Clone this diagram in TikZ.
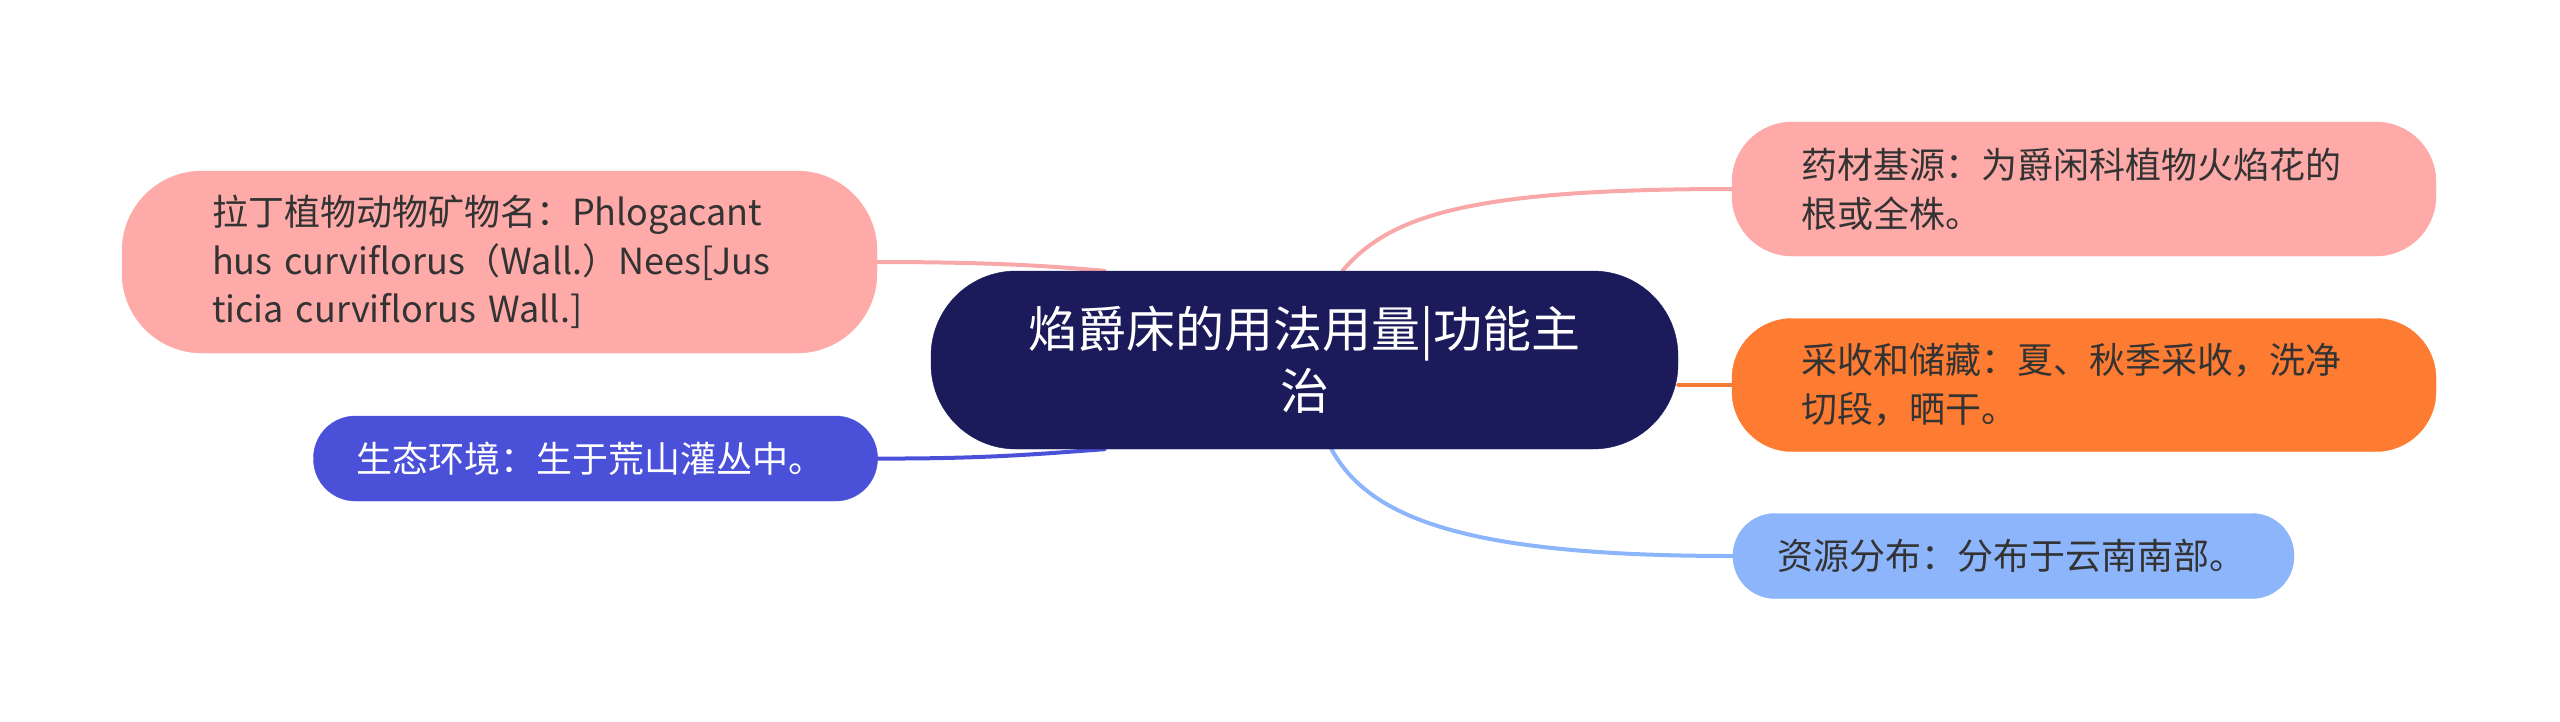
\documentclass[tikz,border=0pt]{standalone}
\usepackage{fontspec}
\setmainfont{Noto Sans CJK SC}
\usetikzlibrary{backgrounds}
\definecolor{navy}{HTML}{1B1A5A}
\definecolor{pinkc}{HTML}{FDAAA8}
\definecolor{pinkl}{HTML}{F8A8A8}
\definecolor{bluec}{HTML}{4A51D8}
\definecolor{orangec}{HTML}{FE7B32}
\definecolor{orangel}{HTML}{F47A35}
\definecolor{lightb}{HTML}{8CB5FB}
\definecolor{txt}{HTML}{333333}
\tikzset{
  mainbox/.style={fill=navy, draw=navy, text=white, align=center,
    minimum width=747pt, minimum height=178pt, rounded corners=85pt,
    inner sep=0pt, font=\fontsize{49}{62}\selectfont},
  childbox/.style={align=left, inner ysep=0pt, anchor=center,
    font=\fontsize{36}{48.5}\selectfont},
  conn/.style={line width=4pt, line cap=round},
}
\begin{document}
\begin{tikzpicture}[x=1pt,y=-1pt]
\useasboundingbox (0,0) rectangle (2560,721);

\node[mainbox] (c) at (1304.5,360) {焰爵床的用法用量|功能主\\治};

\node[childbox, fill=pinkc, draw=pinkc, text=txt, inner xsep=90pt, text width=575pt,
  minimum height=182pt, rounded corners=80pt] (lp) at (499.5,262)
  {\mbox{拉丁植物动物矿物名：Phlogacant}\\\mbox{hus curviflorus（Wall.）Nees[Jus}\\\mbox{ticia curviflorus Wall.]}};

\node[childbox, fill=bluec, draw=bluec, text=white, inner xsep=43pt, text width=478pt,
  minimum height=85pt, rounded corners=42pt] (lb) at (595.5,458.5)
  {\mbox{生态环境：生于荒山灌丛中。}};

\node[childbox, fill=pinkc, draw=pinkc, text=txt, inner xsep=69pt, text width=566pt,
  minimum height=134pt, rounded corners=60pt] (rp) at (2084,189)
  {\mbox{药材基源：为爵闲科植物火焰花的}\\\mbox{根或全株。}};

\node[childbox, fill=orangec, draw=orangec, text=txt, inner xsep=69pt, text width=566pt,
  minimum height=133pt, rounded corners=60pt] (or) at (2084,385)
  {\mbox{采收和储藏：夏、秋季采收，洗净}\\\mbox{切段，晒干。}};

\node[childbox, fill=lightb, draw=lightb, text=txt, inner xsep=44pt, text width=473pt,
  minimum height=85pt, rounded corners=42pt] (lbl) at (2013.5,556)
  {\mbox{资源分布：分布于云南南部。}};

\begin{pgfonlayer}{background}
\draw[conn, pinkl] (lp.east) .. controls (990,262) and (1050,266) .. ([xshift=-200pt]c.north);
\draw[conn, bluec] (lb.east) .. controls (990,459) and (1050,453) .. ([xshift=-200pt]c.south);
\draw[conn, pinkl] ([xshift=38pt]c.north) .. controls (1390,215) and (1470,189) .. (rp.west);
\draw[conn, orangel] (or.west) -- (c.east |- or.west);
\draw[conn, lightb] ([xshift=27pt]c.south) .. controls (1370,520) and (1470,556) .. (lbl.west);
\end{pgfonlayer}
\end{tikzpicture}
\end{document}
